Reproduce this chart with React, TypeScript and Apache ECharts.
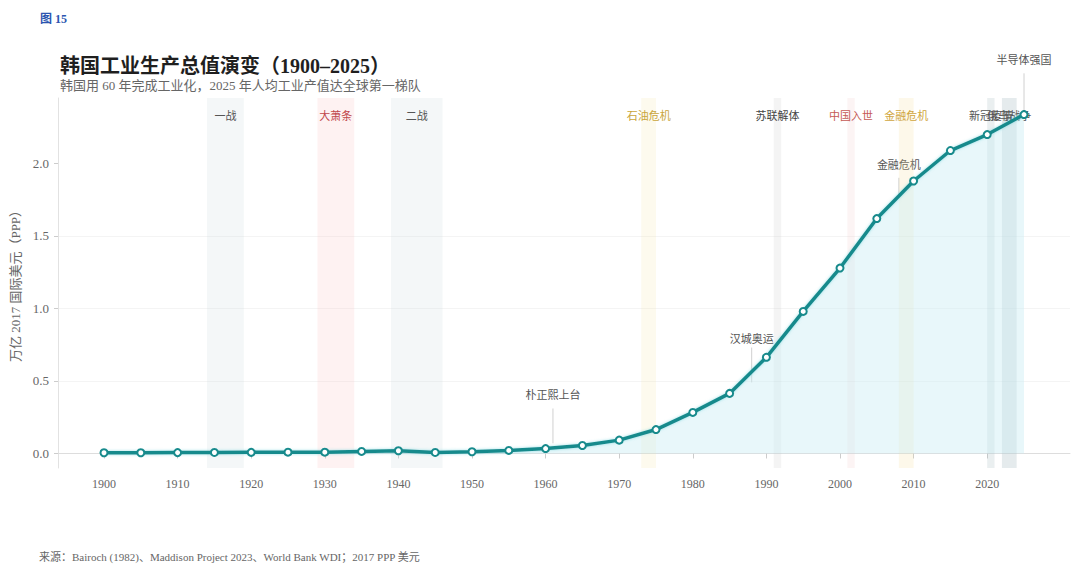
import { useEffect, useRef } from "react";
import * as echarts from "echarts";

const FONT = "'Liberation Serif', 'Noto Sans CJK SC', serif";

// 1900-2025, every 5 years, trillion 2017 int'l $ (PPP)
const years = [
  1900, 1905, 1910, 1915, 1920, 1925, 1930, 1935, 1940, 1945, 1950, 1955, 1960,
  1965, 1970, 1975, 1980, 1985, 1990, 1995, 2000, 2005, 2010, 2015, 2020, 2025,
];
const output = [
  0.005, 0.005, 0.006, 0.007, 0.008, 0.009, 0.009, 0.014, 0.019, 0.007, 0.012,
  0.021, 0.034, 0.055, 0.092, 0.165, 0.283, 0.414, 0.663, 0.979, 1.278, 1.619,
  1.878, 2.088, 2.198, 2.336,
];

// shaded event bands
const eventNames = ["一战", "大萧条", "二战", "石油危机", "苏联解体", "中国入世", "金融危机", "新冠疫情", "俄乌战争"];
const eventStart = [1914, 1929, 1939, 1973, 1991, 2001, 2008, 2020, 2022];
const eventEnd = [1919, 1934, 1946, 1975, 1992, 2002, 2010, 2021, 2024];
const eventText = ["#555", "#c0474a", "#555", "#c9a53c", "#444", "#c55a55", "#d0a640", "#555", "#555"];
const eventFill = [
  "rgba(200,214,222,0.2)",
  "rgba(248,190,190,0.2)",
  "rgba(200,214,222,0.2)",
  "rgba(245,225,160,0.18)",
  "rgba(200,200,200,0.2)",
  "rgba(240,200,200,0.2)",
  "rgba(245,225,160,0.22)",
  "rgba(170,190,195,0.25)",
  "rgba(170,190,195,0.3)",
];

// callouts
const noteText = ["朴正熙上台", "汉城奥运", "金融危机", "半导体强国"];
const noteYear = [1961, 1988, 2008, 2025];
const noteLabelY = [0.4, 0.786, 1.99, 2.715];
const noteLineTop = [0.31, 0.73, 1.9, 2.62];
const noteLineBottom = [0.07, 0.49, 1.77, 2.36];

const xTicks = [1900, 1910, 1920, 1930, 1940, 1950, 1960, 1970, 1980, 1990, 2000, 2010, 2020];
const yTicks = [0, 0.5, 1, 1.5, 2];

export default function App() {
  const ref = useRef<HTMLDivElement | null>(null);

  useEffect(() => {
    document.body.style.margin = "0";
    if (!ref.current) return;
    const chart = echarts.init(ref.current, null, { renderer: "svg" });

    const option: echarts.EChartsOption = {
      animation: false,
      backgroundColor: "#fff",
      textStyle: { fontFamily: FONT },
      title: [
        {
          text: "图 15",
          left: 35,
          top: 8,
          textStyle: { fontSize: 12, fontWeight: "bold", color: "#2c55b0", fontFamily: FONT },
        },
        {
          text: "韩国工业生产总值演变（1900–2025）",
          subtext: "韩国用 60 年完成工业化，2025 年人均工业产值达全球第一梯队",
          left: 55,
          top: 51,
          itemGap: 3,
          textStyle: { fontSize: 20, fontWeight: "bold", color: "#1f1f1f", fontFamily: FONT },
          subtextStyle: { fontSize: 13, color: "#666", fontFamily: FONT },
        },
        {
          text: "来源：Bairoch (1982)、Maddison Project 2023、World Bank WDI；2017 PPP 美元",
          left: 34,
          top: 546,
          textStyle: { fontSize: 11, fontWeight: "normal", color: "#666", fontFamily: FONT },
        },
      ],
      grid: { left: 58, right: 10, top: 98, bottom: 105 },
      xAxis: {
        type: "value",
        min: 1893.75,
        max: 2031.25,
        axisLine: { lineStyle: { color: "#ddd" } },
        axisTick: { show: true, length: 5, customValues: xTicks, lineStyle: { color: "#ccc" } },
        axisLabel: {
          customValues: xTicks,
          margin: 10,
          color: "#666",
          fontSize: 12,
          fontFamily: FONT,
          formatter: (v: number) => String(v),
        },
        splitLine: { show: false },
      },
      yAxis: {
        type: "value",
        min: -0.1,
        max: 2.45,
        name: "万亿 2017 国际美元（PPP）",
        nameLocation: "middle",
        nameGap: 36,
        nameTextStyle: { fontSize: 13, color: "#666", fontFamily: FONT },
        axisLine: { show: true, lineStyle: { color: "#e2e2e2" } },
        axisTick: { show: true, length: 4, customValues: yTicks, lineStyle: { color: "#ccc" } },
        axisLabel: {
          customValues: yTicks,
          margin: 9,
          color: "#666",
          fontSize: 13,
          fontFamily: FONT,
          formatter: (v: number) => v.toFixed(1),
        },
        splitLine: { show: true, showMinLine: false, showMaxLine: false, lineStyle: { color: "#f4f4f4" } },
      },
      series: [
        {
          type: "line",
          name: "工业生产总值",
          data: years.map((y, i) => [y, output[i]]),
          symbol: "circle",
          symbolSize: 7,
          showSymbol: true,
          itemStyle: { color: "#fff", borderColor: "#178a8c", borderWidth: 2 },
          lineStyle: {
            color: "#178a8c",
            width: 3.5,
            shadowColor: "rgba(90,205,215,0.6)",
            shadowBlur: 3,
          },
          areaStyle: { color: "rgba(200,236,244,0.6)" },
          emphasis: { disabled: true },
          markArea: {
            silent: true,
            data: eventNames.map((n, i) => [
              {
                name: n,
                xAxis: eventStart[i],
                itemStyle: { color: eventFill[i] },
                label: { color: eventText[i] },
              },
              { xAxis: eventEnd[i] },
            ]) as any,
            label: {
              show: true,
              position: "insideTop",
              distance: 12,
              fontSize: 11,
              fontFamily: FONT,
            },
          },
        },
      ],
    };

    chart.setOption(option);

    const px = (x: number, y: number) => chart.convertToPixel({ gridIndex: 0 }, [x, y]) as number[];
    const graphic: any[] = [];
    noteText.forEach((t, i) => {
      const top = px(noteYear[i], noteLineTop[i]);
      const bot = px(noteYear[i], noteLineBottom[i]);
      const lab = px(noteYear[i], noteLabelY[i]);
      graphic.push({
        type: "line",
        silent: true,
        shape: { x1: top[0], y1: top[1], x2: bot[0], y2: bot[1] },
        style: { stroke: "#d0d0d0", lineWidth: 1 },
      });
      graphic.push({
        type: "text",
        silent: true,
        style: {
          text: t,
          x: lab[0],
          y: lab[1],
          textAlign: "center",
          textVerticalAlign: "middle",
          fill: "#555",
          font: `11px ${FONT}`,
        },
      });
    });
    chart.setOption({ graphic });

    return () => {
      chart.dispose();
    };
  }, []);

  return <div ref={ref} style={{ width: 1080, height: 573 }} />;
}
